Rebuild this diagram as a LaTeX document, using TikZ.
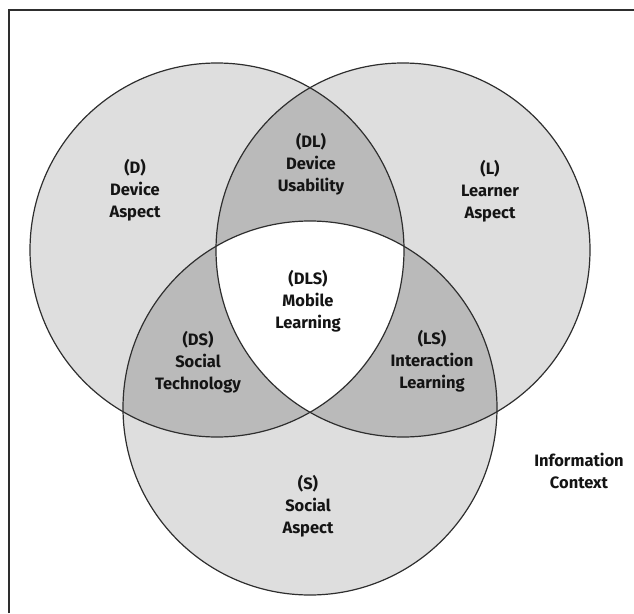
\documentclass[tikz,border=0pt]{standalone}
\usepackage{fontspec}
\setmainfont{Fira Sans}
\definecolor{lightg}{HTML}{DEDEDE}
\definecolor{darkg}{HTML}{BABABA}
\definecolor{lineg}{HTML}{2E2E2E}
\begin{document}
\begin{tikzpicture}[x=1pt,y=-1pt,
  lbl/.style={align=center,font=\bfseries\fontsize{16.5}{21.8}\selectfont,text=black!92,inner sep=0pt},
  ring/.style={draw=lineg,line width=1.2pt}]
\useasboundingbox (0,0) rectangle (634,613);
\def\R{187}
\coordinate (cD) at (217,250);
\coordinate (cL) at (403,250);
\coordinate (cS) at (310,408);
% light fills
\fill[lightg] (cD) circle (\R);
\fill[lightg] (cL) circle (\R);
\fill[lightg] (cS) circle (\R);
% pairwise
\begin{scope}\clip (cD) circle (\R); \fill[darkg] (cL) circle (\R); \fill[darkg] (cS) circle (\R);\end{scope}
\begin{scope}\clip (cL) circle (\R); \fill[darkg] (cS) circle (\R);\end{scope}
% triple
\begin{scope}\clip (cD) circle (\R); \clip (cL) circle (\R); \fill[white] (cS) circle (\R);\end{scope}
% outlines
\draw[ring] (cD) circle (\R);
\draw[ring] (cL) circle (\R);
\draw[ring] (cS) circle (\R);
% frame
\draw[lineg,line width=2pt] (9,613) -- (9,10) -- (634,10);
% labels
\node[lbl] (D) at (135,190) {(D)\\Device\\Aspect};
\node[lbl] (DL) at (311,164) {(DL)\\Device\\Usability};
\node[lbl] (L) at (490,191) {(L)\\Learner\\Aspect};
\node[lbl] (DLS) at (308,301) {(DLS)\\Mobile\\Learning};
\node[lbl] (DS) at (198,362) {(DS)\\Social\\Technology};
\node[lbl] (LS) at (432,361) {(LS)\\Interaction\\Learning};
\node[lbl] (S) at (308,506) {(S)\\Social\\Aspect};
\node[lbl] (I) at (579,471) {Information\\Context};
\end{tikzpicture}
\end{document}
